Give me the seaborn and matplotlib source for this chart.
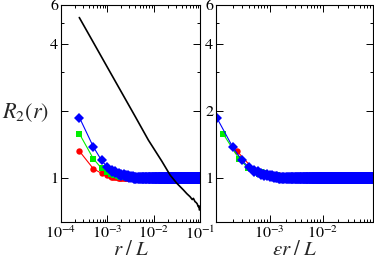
import numpy as np
import matplotlib
matplotlib.use("Agg")
import matplotlib.pyplot as plt
import seaborn as sns
from matplotlib.ticker import FixedLocator, FixedFormatter, LogLocator, NullFormatter

## Datos

# muestreo en r/L (paso de la malla) y numero de puntos por serie
r_step = 2.5e-4
n_points = 900

# primeros valores de R2, despues meseta
red_head = [1.32, 1.10, 1.05, 1.03, 1.022, 1.018, 1.015, 1.013, 1.012, 1.011]
green_head = [1.58, 1.22, 1.105, 1.067, 1.05, 1.04, 1.032, 1.026, 1.021, 1.017,
              1.014, 1.012, 1.01, 1.008]
blue_head = [1.87, 1.38, 1.20, 1.12, 1.08, 1.06, 1.045, 1.035, 1.028, 1.022,
             1.017, 1.013, 1.01, 1.007, 1.005, 1.003, 1.002, 1.001]
red_level = 1.012
green_level = 1.003
blue_level = 0.997

# factores epsilon del panel derecho
eps_red = 0.97
eps_green = 0.53
eps_blue = 0.40

# curva negra (solo panel izquierdo)
black_x = [2.48e-4, 5e-4, 1e-3, 2e-3, 4e-3, 7.7e-3, 1.5e-2, 2.27e-2, 3.16e-2,
           4.4e-2, 5.2e-2, 6.1e-2, 6.8e-2, 7.2e-2, 7.8e-2, 8.3e-2, 8.7e-2,
           9.2e-2, 9.5e-2, 9.7e-2, 1.0e-1]
black_y = [5.27, 4.07, 3.15, 2.44, 1.89, 1.48, 1.19, 1.03, 0.947,
           0.883, 0.85, 0.824, 0.80, 0.81, 0.783, 0.775, 0.765,
           0.743, 0.75, 0.718, 0.72]

# ejes
y_ticks = [1, 2, 4, 6]
y_minor = [3, 5]
left_ylabels = ["1", "", "4", "6"]
right_ylabels = ["1", "2", "4", "6"]


def serie(head, level):
    return head + [level] * (n_points - len(head))


r_grid = r_step * np.arange(1, n_points + 1)
series = [
    (serie(red_head, red_level), eps_red, "#ff0000", "o"),
    (serie(green_head, green_level), eps_green, "#00ee00", "s"),
    (serie(blue_head, blue_level), eps_blue, "#0000ff", "D"),
]
n_sep = 4  # marcadores que se ven separados antes de la banda

## Grafico

sns.set_style("ticks")
plt.rcParams["font.family"] = ["STIXGeneral", "DejaVu Serif"]
plt.rcParams["mathtext.fontset"] = "stix"

fig = plt.figure(figsize=(3.74, 2.67), dpi=100)
ax1 = fig.add_axes([61 / 374, 1 - 222 / 267, 139 / 374, 217 / 267])
ax2 = fig.add_axes([216 / 374, 1 - 222 / 267, 156.5 / 374, 217 / 267])

for vals, eps, col, mk in series:
    for ax, xs in [(ax1, r_grid), (ax2, eps * r_grid)]:
        # tramo inicial, marcadores separados
        sns.lineplot(x=xs[:n_sep + 1], y=vals[:n_sep + 1], ax=ax, color=col, marker=mk,
                     markersize=4.6, markeredgewidth=0, linewidth=0.8,
                     estimator=None, sort=False)
        # resto: marcadores superpuestos forman una banda gruesa
        sns.lineplot(x=xs[n_sep:], y=vals[n_sep:], ax=ax, color=col, marker=mk,
                     markersize=6.3, markeredgewidth=0, linewidth=0.8,
                     estimator=None, sort=False)

sns.lineplot(x=black_x, y=black_y, ax=ax1, color="black", linewidth=1.2,
             estimator=None, sort=False)

ax1.set_xlim(1e-4, 1e-1)
ax2.set_xlim(9.7e-5, 8.8e-2)

for ax, labs in [(ax1, left_ylabels), (ax2, right_ylabels)]:
    ax.set_xscale("log")
    ax.set_yscale("log")
    ax.set_ylim(0.634, 6)
    ax.yaxis.set_major_locator(FixedLocator(y_ticks))
    ax.yaxis.set_major_formatter(FixedFormatter(labs))
    ax.yaxis.set_minor_locator(FixedLocator(y_minor))
    ax.yaxis.set_minor_formatter(NullFormatter())
    ax.xaxis.set_minor_locator(LogLocator(base=10, subs=np.arange(2, 10), numticks=20))
    ax.xaxis.set_minor_formatter(NullFormatter())
    ax.tick_params(which="both", direction="in", top=True, right=True,
                   labelsize=11.5, pad=2, width=0.7, colors="black")
    ax.tick_params(which="major", length=5)
    ax.tick_params(which="minor", length=2.5)
    for s in ax.spines.values():
        s.set_linewidth(0.8)
        s.set_color("black")

ax1.xaxis.set_major_locator(FixedLocator([1e-4, 1e-3, 1e-2, 1e-1]))
ax2.xaxis.set_major_locator(FixedLocator([1e-3, 1e-2]))

ax1.set_xlabel(r"$r\;/\;L$", fontsize=15, labelpad=-1)
ax2.set_xlabel(r"$\epsilon r\;/\;L$", fontsize=15, labelpad=-1)
ax1.set_ylabel("")
ax2.set_ylabel("")
fig.text(25 / 374, 1 - 113 / 267, r"$R_2(r)$", fontsize=16, ha="center", va="center")

fig.savefig("out.png", dpi=100)
